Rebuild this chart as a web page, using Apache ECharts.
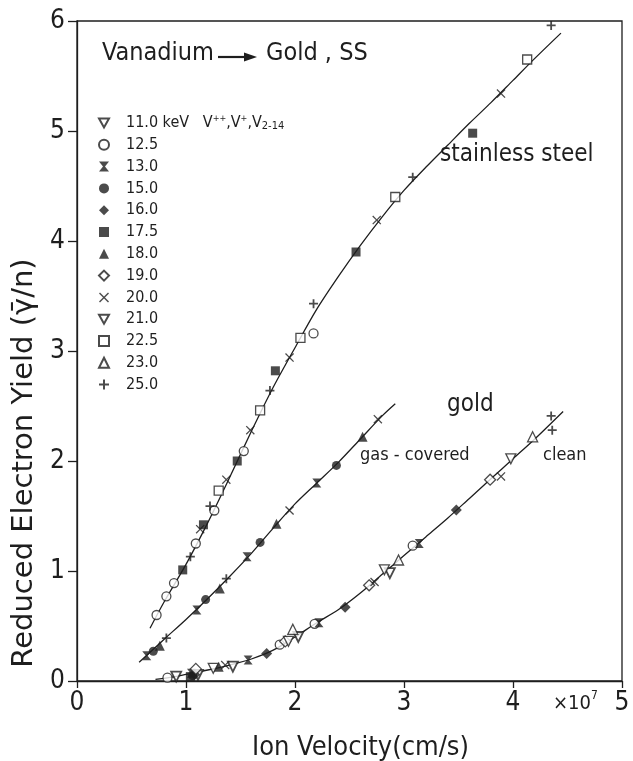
<!DOCTYPE html>
<html><head><meta charset="utf-8">
<script src="https://cdn.jsdelivr.net/npm/echarts@6/dist/echarts.min.js"></script>
<style>html,body{margin:0;padding:0;background:#fff}#c{width:633px;height:761px}</style>
</head><body><div id="c"></div>
<script>
// ---- data: [velocity (1e7 cm/s), reduced yield] ----
const e110 = [[0.91,0.04],[1.11,0.055],[1.43,0.13],[2.03,0.40],[2.87,0.98]];
const e125 = [[0.73,0.60],[0.82,0.77],[0.89,0.89],[1.09,1.25],[1.26,1.55],[1.53,2.09],[2.17,3.16],
              [0.83,0.03],[1.86,0.33],[2.18,0.52],[3.08,1.23]];
const e130 = [[0.64,0.23],[1.10,0.645],[1.56,1.13],[2.20,1.80],
              [1.05,0.07],[1.57,0.19],[2.22,0.53],[3.14,1.25]];
const e150 = [[0.70,0.27],[1.18,0.74],[1.68,1.26],[2.38,1.96],[1.06,0.05]];
const e160 = [[1.08,0.06],[1.74,0.25],[2.46,0.67],[3.48,1.555]];
const e175 = [[0.97,1.01],[1.16,1.42],[1.47,2.00],[1.82,2.82],[2.56,3.90],[3.63,4.98],[1.04,0.04]];
const e180 = [[0.76,0.32],[1.31,0.84],[1.83,1.43],[2.62,2.22],[1.30,0.13]];
const e190 = [[1.09,0.11],[1.91,0.36],[2.68,0.87],[3.79,1.83]];
const e200 = [[1.13,1.38],[1.37,1.83],[1.59,2.28],[1.95,2.94],[2.75,4.19],[3.89,5.34],
              [1.95,1.55],[2.76,2.38],[1.36,0.145],[2.73,0.90],[3.89,1.86]];
const e210 = [[1.25,0.115],[1.94,0.36],[2.82,1.01],[3.98,2.02]];
const e225 = [[1.30,1.73],[1.68,2.46],[2.05,3.12],[2.92,4.40],[4.13,5.65]];
const e230 = [[1.98,0.47],[2.95,1.10],[4.18,2.22]];
const e250 = [[1.04,1.13],[1.22,1.59],[1.77,2.64],[2.17,3.43],[3.08,4.58],[4.35,5.96],
              [0.82,0.39],[1.37,0.93],[4.35,2.41],[4.36,2.28]];

// fitted curves as drawn in the reference
const curveSteel = [[0.67,0.48],[0.8,0.72],[1.0,1.06],[1.2,1.44],[1.4,1.85],[1.6,2.27],[1.8,2.67],[2.0,3.03],
  [2.2,3.38],[2.4,3.68],[2.6,3.96],[2.8,4.22],[3.0,4.46],[3.2,4.67],[3.4,4.87],[3.6,5.07],[3.8,5.26],
  [4.0,5.46],[4.2,5.66],[4.44,5.89]];
const curveGas = [[0.57,0.17],[0.8,0.38],[1.0,0.56],[1.2,0.75],[1.4,0.95],[1.6,1.16],[1.8,1.39],[2.0,1.61],
  [2.2,1.80],[2.4,1.99],[2.6,2.20],[2.8,2.41],[2.92,2.52]];
const curveGold = [[0.72,0.015],[0.9,0.04],[1.0,0.06],[1.2,0.10],[1.4,0.145],[1.6,0.20],[1.8,0.28],[2.0,0.40],
  [2.2,0.53],[2.4,0.65],[2.6,0.80],[2.8,0.97],[3.0,1.14],[3.2,1.31],[3.4,1.48],[3.6,1.66],[3.8,1.84],
  [4.0,2.02],[4.2,2.20],[4.46,2.45]];

const energyNames = ['11.0','12.5','13.0','15.0','16.0','17.5','18.0','19.0','20.0','21.0','22.5','23.0','25.0'];
const energyData = [e110,e125,e130,e150,e160,e175,e180,e190,e200,e210,e225,e230,e250];
const xTicks = [0,1,2,3,4,5];
const yTicks = [0,1,2,3,4,5,6];

// ---- styling ----
const INK = '#1e1e1e';
const FONT = '"DejaVu Sans Condensed","DejaVu Sans",sans-serif';
const P_DOWN = 'path://M0,0L10,0L5,9Z';
const P_HOUR = 'path://M0,0L10,0L6,5L10,10L0,10L4,5Z';
const P_CROSS = 'path://M1,0L5,4L9,0L10,1L6,5L10,9L9,10L5,6L1,10L0,9L4,5L0,1Z';
const P_PLUS = 'path://M4,0L6,0L6,4L10,4L10,6L6,6L6,10L4,10L4,6L0,6L0,4L4,4Z';
const open = {color:'#fff', borderColor:INK, borderWidth:1.3};
const fill = {color:INK, borderWidth:0};
const markers = [
  {symbol:P_DOWN, size:10, style:{color:'#fff', borderColor:INK, borderWidth:1.8}},
  {symbol:'circle', size:9, style:open},
  {symbol:P_HOUR, size:9, style:fill},
  {symbol:'circle', size:9, style:fill},
  {symbol:'diamond', size:11, style:fill},
  {symbol:'rect', size:9, style:fill},
  {symbol:'triangle', size:10, style:fill},
  {symbol:'diamond', size:11, style:open},
  {symbol:P_CROSS, size:9, style:fill},
  {symbol:P_DOWN, size:10, style:open},
  {symbol:'rect', size:9, style:open},
  {symbol:'triangle', size:10, style:open},
  {symbol:P_PLUS, size:9, style:fill}
];

const series = [];
[curveSteel, curveGas, curveGold].forEach(c => series.push({
  type:'line', data:c, smooth:0.3, showSymbol:false, silent:true, z:1,
  lineStyle:{color:INK, width:1.3}
}));
energyNames.forEach((n,i) => series.push({
  type:'scatter', name:n, data:energyData[i], symbol:markers[i].symbol,
  symbolSize:markers[i].size, itemStyle:markers[i].style, z:3
}));

const chart = echarts.init(document.getElementById('c'), null, {renderer:'canvas'});
chart.setOption({
  backgroundColor:'#fff',
  animation:false,
  grid:{left:77, right:11, top:21, bottom:80, containLabel:false, outerBoundsMode:'none',
    show:true, borderColor:INK, borderWidth:1.3, backgroundColor:'transparent'},
  xAxis:{type:'value', min:0, max:5, interval:1,
    name:'Ion Velocity(cm/s)', nameLocation:'middle', nameGap:53,
    nameTextStyle:{fontFamily:FONT, fontSize:27, color:INK, padding:[0,0,0,22]},
    axisLine:{lineStyle:{color:INK, width:1.3}},
    axisTick:{length:7, lineStyle:{color:INK, width:1.3}},
    axisLabel:{fontFamily:FONT, fontSize:26, color:INK, margin:9,
      formatter:v => xTicks.includes(v) ? String(v) : ''},
    splitLine:{show:false}},
  yAxis:{type:'value', min:0, max:6, interval:1,
    name:'Reduced Electron Yield (\u03B3\u0304/n)', nameLocation:'middle', nameGap:36,
    nameTextStyle:{fontFamily:'"DejaVu Sans",sans-serif', fontSize:29, color:INK, padding:[0,224,0,0]},
    axisLine:{lineStyle:{color:INK, width:1.3}},
    axisTick:{length:9, lineStyle:{color:INK, width:1.3}},
    axisLabel:{fontFamily:FONT, fontSize:26, color:INK, margin:12,
      formatter:v => yTicks.includes(v) ? String(v) : ''},
    splitLine:{show:false}},
  legend:{
    data:energyNames, orient:'vertical', left:98, top:114, padding:0,
    itemWidth:10, itemHeight:10, itemGap:3.8, selectedMode:false,
    textStyle:{fontFamily:FONT, fontSize:16, color:INK, lineHeight:18, padding:[0,0,0,12],
      rich:{sup:{fontFamily:FONT, fontSize:9, color:INK, verticalAlign:'top', lineHeight:18},
            sub:{fontFamily:FONT, fontSize:11, color:INK, verticalAlign:'bottom', lineHeight:18},
            n:{fontFamily:FONT, fontSize:16, color:INK, lineHeight:18}}},
    formatter:name => name === '11.0'
      ? '{n|11.0 keV   V}{sup|++}{n|,V}{sup|+}{n|,V}{sub|2-14}' : name
  },
  graphic:[
    {type:'text', left:102, top:41, style:{text:'Vanadium', font:'25px '+FONT, fill:INK}},
    {type:'line', shape:{x1:218, y1:57, x2:247, y2:57}, style:{stroke:INK, lineWidth:2.2}},
    {type:'polygon', shape:{points:[[244,52.5],[257,57],[244,61.5]]}, style:{fill:INK}},
    {type:'text', left:266, top:41, style:{text:'Gold , SS', font:'25px '+FONT, fill:INK}},
    {type:'text', left:440, top:143, style:{text:'stainless steel', font:'24px '+FONT, fill:INK}},
    {type:'text', left:447, top:393, style:{text:'gold', font:'24px '+FONT, fill:INK}},
    {type:'text', left:360, top:446, style:{text:'gas - covered', font:'18px '+FONT, fill:INK}},
    {type:'text', left:543, top:446, style:{text:'clean', font:'18px '+FONT, fill:INK}},
    {type:'text', left:553, top:690, style:{
      text:'{a|\u00D710}{b|7}', fill:INK,
      rich:{a:{font:'20px '+FONT, fill:INK, lineHeight:24, verticalAlign:'bottom'},
            b:{font:'12px '+FONT, fill:INK, lineHeight:24, verticalAlign:'top'}}}}
  ],
  series:series
});
</script></body></html>
